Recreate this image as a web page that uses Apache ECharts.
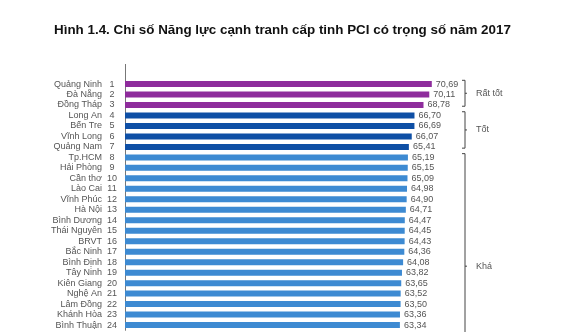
<!DOCTYPE html>
<html><head><meta charset="utf-8">
<script src="https://cdn.jsdelivr.net/npm/echarts@6/dist/echarts.min.js"></script>
<style>html,body{margin:0;padding:0;background:#fff}#c{width:567px;height:332px}</style>
</head><body><div id="c"></div>
<script>
const provinces = ['Quảng Ninh','Đà Nẵng','Đồng Tháp','Long An','Bến Tre','Vĩnh Long','Quảng Nam','Tp.HCM','Hải Phòng','Cần thơ','Lào Cai','Vĩnh Phúc','Hà Nội','Bình Dương','Thái Nguyên','BRVT','Bắc Ninh','Bình Định','Tây Ninh','Kiên Giang','Nghệ An','Lâm Đồng','Khánh Hòa','Bình Thuận'];
const ranks = [1,2,3,4,5,6,7,8,9,10,11,12,13,14,15,16,17,18,19,20,21,22,23,24];
const values = [70.69,70.11,68.78,66.70,66.69,66.07,65.41,65.19,65.15,65.09,64.98,64.90,64.71,64.47,64.45,64.43,64.36,64.08,63.82,63.65,63.52,63.50,63.36,63.34];
const groupNames = ['Rất tốt','Tốt','Khá'];
const groupStart = [0,3,7];      // first row index of each group
const groupEnd = [2,6,28];       // last row index (Khá continues below the visible part)
const groupColors = ['#8E2C9C','#0E4FA5','#3D8AD2'];

function groupOf(i){ for(let g=0; g<groupNames.length; g++){ if(i>=groupStart[g] && i<=groupEnd[g]) return g; } return 2; }

const chart = echarts.init(document.getElementById('c'));
const TXT = '#555';
const FONT = '"Liberation Sans", Arial, sans-serif';
chart.setOption({
  animation:false,
  title:{ text:'Hình 1.4. Chi số Năng lực cạnh tranh cấp tinh PCI có trọng số năm 2017', left:49, top:19,
    textStyle:{ fontFamily:FONT, fontSize:13.4, fontWeight:'bold', color:'#111' } },
  grid:{ left:125, width:434, top:78.8, height:251.5 },
  xAxis:{ type:'value', min:0, max:100, show:false },
  yAxis:{ type:'category', inverse:true, data:provinces.map((p,i)=>p+'|'+ranks[i]),
    axisLine:{ lineStyle:{ color:'#777', width:1 } }, axisTick:{ show:false },
    axisLabel:{ interval:0, margin:5, fontFamily:FONT, fontSize:9, color:TXT,
      formatter:v=>{ const [n,r]=v.split('|'); return '{n|'+n+'}{r|'+r+'}'; },
      rich:{ n:{ fontFamily:FONT, fontSize:9, color:TXT, padding:[0,2,0,0] },
             r:{ fontFamily:FONT, fontSize:9, color:TXT, width:16, align:'center' } } } },
  series:[{ type:'bar', barWidth:6,
    data: values.map((v,i)=>({ value:v, itemStyle:{ color:groupColors[groupOf(i)] } })),
    label:{ show:true, position:'right', distance:4, fontFamily:FONT, fontSize:9, color:TXT,
      formatter:p=>p.value.toFixed(2).replace('.',',') } }]
});

// Axis extension above first row and group brackets
const pitch = chart.convertToPixel({yAxisIndex:0}, 1) - chart.convertToPixel({yAxisIndex:0}, 0);
const y0 = chart.convertToPixel({yAxisIndex:0}, 0);
const axX = chart.convertToPixel({xAxisIndex:0}, 0);
const bx = axX + 340;
const els = [{ type:'line', shape:{ x1:axX+0.5, y1:64, x2:axX+0.5, y2:y0 }, style:{ stroke:'#777', lineWidth:1 } }];
groupNames.forEach((g,k)=>{
  const top = y0 + (groupStart[k]-0.5)*pitch + 1.5;
  const bot = y0 + (groupEnd[k]+0.5)*pitch - 4;
  const mid = (top+bot)/2;
  els.push({ type:'polyline', shape:{ points:[[bx-3,top],[bx,top],[bx,bot],[bx-3,bot]] }, style:{ stroke:'#444', lineWidth:1, fill:null } });
  els.push({ type:'line', shape:{ x1:bx, y1:mid, x2:bx+2, y2:mid }, style:{ stroke:'#444', lineWidth:1 } });
  els.push({ type:'text', x:bx+11, y:mid, style:{ text:g, fontFamily:FONT, fontSize:9, fill:TXT, verticalAlign:'middle' } });
});
chart.setOption({ graphic: els });
</script></body></html>
